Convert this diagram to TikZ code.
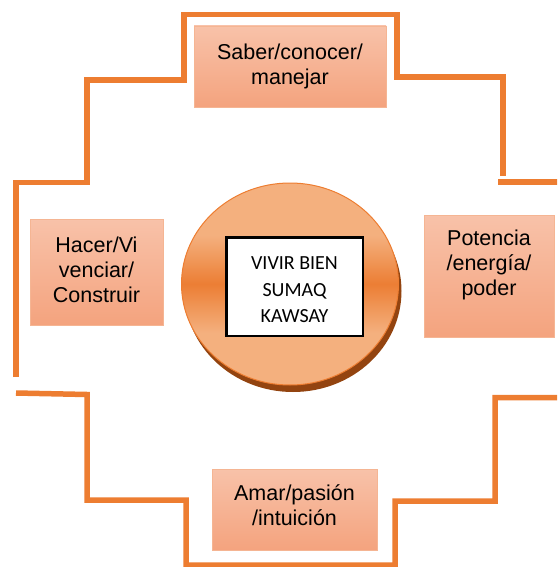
\documentclass[tikz,border=0pt]{standalone}
\usepackage{fontspec}
\setmainfont{Liberation Sans}
\newfontfamily\calibrifont{Carlito}
\usetikzlibrary{shapes.geometric}
\definecolor{lineor}{HTML}{ED7D31}
\definecolor{boxtop}{HTML}{F8C2A9}
\definecolor{boxbot}{HTML}{F4A37E}
\definecolor{boxedge}{HTML}{F5B593}
\definecolor{discl}{HTML}{F4B07E}
\definecolor{discd}{HTML}{EC7E34}
\definecolor{discrim}{HTML}{ED7D31}
\definecolor{discbrown}{HTML}{934410}
\pgfdeclareverticalshading{discshade}{100bp}{color(0bp)=(discl); color(38bp)=(discl); color(50bp)=(discd); color(62bp)=(discl); color(100bp)=(discl)}
\begin{document}
\begin{tikzpicture}[x=1pt,y=-1pt,
  frame/.style={draw=lineor, line width=5.5pt, line join=miter},
  petal/.style={draw=boxedge, line width=0.8pt, top color=boxtop, bottom color=boxbot, inner sep=0pt},
  lbl/.style={align=center, inner sep=0pt, font=\fontsize{21.5}{25}\selectfont},
  corelbl/.style={align=center, inner sep=0pt, font=\calibrifont\fontsize{20}{26.5}\selectfont}
]
\useasboundingbox (0,0) rectangle (557,567);
\clip (0,0) rectangle (557,567);
% stepped frame
\draw[frame] (16,377) -- (16,182.5) -- (87,182.5) -- (87,80) -- (184,80) -- (184,14.5) -- (397,14.5) -- (397,77) -- (503,77) -- (503,176);
\draw[frame] (498,182) -- (562,182);
\draw[frame] (16,393) -- (87,394.5) -- (87,500) -- (186,500) -- (186,565) -- (395,565) -- (395,501) -- (495,501) -- (495,397.5) -- (562,397.5);
% boxes
\node[petal, minimum width=192, minimum height=81] (saber) at (290,66.5) {};
\node[petal, minimum width=133, minimum height=106] (hacer) at (96.5,272) {};
\node[petal, minimum width=130, minimum height=122] (potencia) at (489,276) {};
\node[petal, minimum width=165, minimum height=81] (amar) at (294.5,509.5) {};
\node[lbl] (saberT) at (290,66.5) {Saber/conocer/\\manejar};
\node[lbl] (hacerT) at (96.5,270) {Hacer/Vi\\venciar/\\Construir};
\node[lbl] (potenciaT) at (489,265) {Potencia\\/energía/\\poder};
\node[lbl] (amarT) at (294.5,505.5) {Amar/pasión\\/intuición};
% disc
\node[ellipse, fill=discbrown, minimum width=217, minimum height=202, inner sep=0pt] (discshadow) at (293,291) {};
\node[ellipse, shade, shading=discshade, draw=discrim, line width=1pt, minimum width=217, minimum height=202, inner sep=0pt] (disc) at (290,284) {};
\node[draw=black, line width=2.5pt, fill=white, minimum width=136.5, minimum height=98.5, inner sep=0pt] (core) at (294.5,286.5) {};
\node[corelbl] (coreT) at (294.5,290) {VIVIR BIEN\\SUMAQ\\KAWSAY};
\end{tikzpicture}
\end{document}
